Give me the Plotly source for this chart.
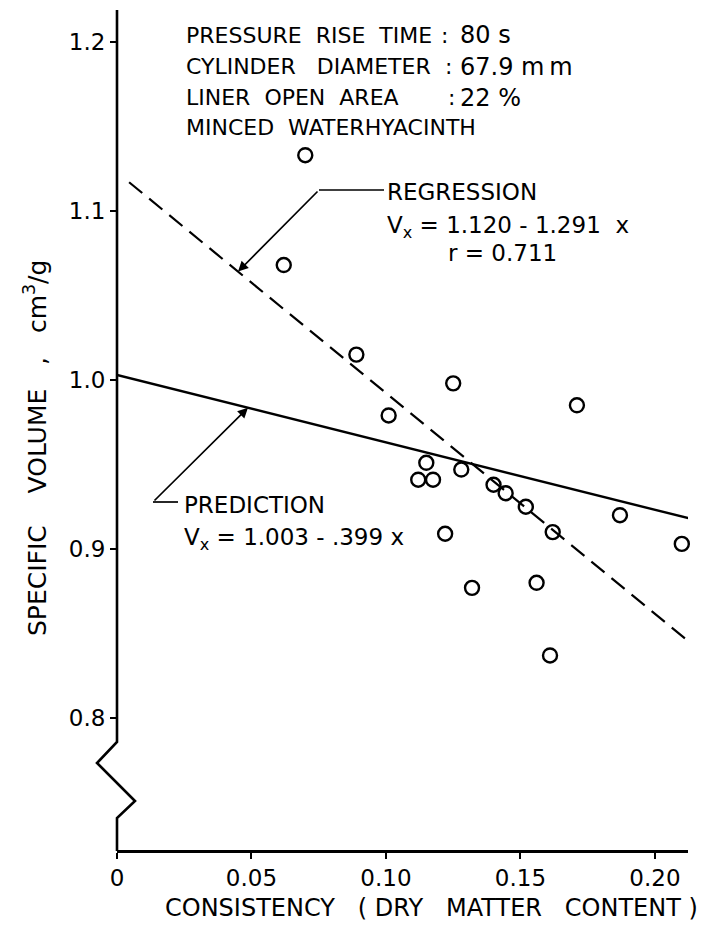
import plotly.graph_objects as go

# ---- data ----
consistency = [0.070, 0.062, 0.089, 0.101, 0.125, 0.171, 0.115, 0.112, 0.1175, 0.128,
               0.140, 0.1445, 0.152, 0.162, 0.122, 0.132, 0.156, 0.161, 0.187, 0.210]
specific_volume = [1.133, 1.068, 1.015, 0.979, 0.998, 0.985, 0.951, 0.941, 0.941, 0.947,
                   0.938, 0.933, 0.925, 0.910, 0.909, 0.877, 0.880, 0.837, 0.920, 0.903]

regression_x = [0.0045, 0.212]
regression_y = [1.117, 0.846]
prediction_x = [0.0, 0.213]
prediction_y = [1.003, 0.918]

x_ticks = [0, 0.05, 0.10, 0.15, 0.20]
x_tick_labels = ["0", "0.05", "0.10", "0.15", "0.20"]
y_ticks = [0.8, 0.9, 1.0, 1.1, 1.2]
y_tick_labels = ["0.8", "0.9", "1.0", "1.1", "1.2"]

# ---- layout geometry (window pixels; the page body adds an 8px margin) ----
OFF = 8
WIN_W, WIN_H = 711, 928
W, H = WIN_W - OFF, WIN_H - OFF
L, R, T, B = 117, 688, 10, 850          # plot area in window pixels
XR = [0, 0.2123]
YR = [0.7219, 1.2189]

def px(xp):  # window pixel -> paper x
    return (xp - L) / (R - L)

def py(yp):  # window pixel -> paper y
    return (B - yp) / (B - T)

def x2pix(x):
    return L + (x - XR[0]) / (XR[1] - XR[0]) * (R - L)

def y2pix(y):
    return B - (y - YR[0]) / (YR[1] - YR[0]) * (B - T)

FONT = "DejaVu Sans"
NB = "\u00a0"

fig = go.Figure()
fig.add_trace(go.Scatter(x=regression_x, y=regression_y, mode="lines",
                         line=dict(color="black", width=2.2, dash="17px,9px"),
                         showlegend=False, hoverinfo="skip"))
fig.add_trace(go.Scatter(x=prediction_x, y=prediction_y, mode="lines",
                         line=dict(color="black", width=2.4),
                         showlegend=False, hoverinfo="skip"))
fig.add_trace(go.Scatter(x=consistency, y=specific_volume, mode="markers",
                         marker=dict(symbol="circle-open", size=14, color="black",
                                     line=dict(width=2.4, color="black")),
                         showlegend=False, cliponaxis=False))

annotations = []
PAD = 4  # annotation inner padding

def text(s, xp, yp, size=23, anchor="left"):
    xx = xp - PAD if anchor == "left" else xp
    annotations.append(dict(text=s, x=px(xx), y=py(yp), xref="paper", yref="paper",
                            xanchor=anchor, yanchor="middle", showarrow=False,
                            font=dict(family=FONT, size=size, color="black")))

# info block
rows = [("PRESSURE" + NB*2 + "RISE" + NB*2 + "TIME", 445, "80" + NB + "s", 35),
        ("CYLINDER" + NB*3 + "DIAMETER", 448, "67.9" + NB + "m\u2009m", 67),
        ("LINER" + NB*2 + "OPEN" + NB*2 + "AREA", 451, "22" + NB + "%", 98)]
for lab, cx, val, yy in rows:
    text(lab, 188, yy, size=22)
    text(":", cx, yy, size=22, anchor="center")
    text(val, 462, yy, size=24)
text("MINCED" + NB*2 + "WATERHYACINTH", 188, 128, size=22)

text("REGRESSION", 389, 192)
text("V<sub>x</sub> = 1.120 - 1.291" + NB*2 + "x", 389, 227)
text("r = 0.711", 450, 253)
text("PREDICTION", 186, 505)
text("V<sub>x</sub> = 1.003 - .399 x", 186, 539)

# axis titles
text("CONSISTENCY" + NB*3 + "(" + NB + "DRY" + NB*3 + "MATTER" + NB*3 + "CONTENT" + NB + ")",
     431, 908, size=24, anchor="center")
annotations.append(dict(text="SPECIFIC" + NB*4 + "VOLUME" + NB*3 + "," + NB*3 + "cm<sup>3</sup>/g",
                        x=px(36), y=py(448), xref="paper", yref="paper", textangle=-90,
                        xanchor="center", yanchor="middle", showarrow=False,
                        font=dict(family=FONT, size=25, color="black")))

# leader arrows (tips lie on the lines)
def line_y(xs, ys, x):
    return ys[0] + (ys[1] - ys[0]) * (x - xs[0]) / (xs[1] - xs[0])

def arrow(tip_x, tip_y, cx, cy):
    annotations.append(dict(x=tip_x, y=tip_y, xref="x", yref="y",
                            ax=cx - x2pix(tip_x), ay=cy - y2pix(tip_y),
                            axref="pixel", ayref="pixel",
                            showarrow=True, arrowhead=2, arrowsize=1.2, arrowwidth=1.7,
                            arrowcolor="black", text="", standoff=0))

reg_tip_x = 0.045
arrow(reg_tip_x, line_y(regression_x, regression_y, reg_tip_x), 319, 190)
pred_tip_x = 0.0487
arrow(pred_tip_x, line_y(prediction_x, prediction_y, pred_tip_x), 153, 502)

shapes = [
    dict(type="line", xref="paper", yref="paper", x0=px(319), y0=py(190), x1=px(384), y1=py(190),
         line=dict(color="black", width=1.7)),
    dict(type="line", xref="paper", yref="paper", x0=px(153), y0=py(502), x1=px(178), y1=py(502),
         line=dict(color="black", width=1.7)),
    # y axis with break
    dict(type="path", xref="paper", yref="paper",
         path=f"M {px(117)} {py(10)} L {px(117)} {py(742)} L {px(97)} {py(763)} "
              f"L {px(135)} {py(801)} L {px(117)} {py(818)} L {px(117)} {py(851)}",
         line=dict(color="black", width=2.6)),
]

fig.update_layout(
    width=W, height=H,
    margin=dict(l=L - OFF, r=WIN_W - R, t=T - OFF, b=WIN_H - B),
    plot_bgcolor="white", paper_bgcolor="white",
    annotations=annotations, shapes=shapes,
    xaxis=dict(range=XR, tickvals=x_ticks, ticktext=x_tick_labels, showgrid=False,
               zeroline=False, showline=True, linecolor="black", linewidth=2.6,
               ticks="outside", ticklen=6, tickwidth=2, tickcolor="black",
               tickfont=dict(family=FONT, size=23, color="black")),
    yaxis=dict(range=YR, tickvals=y_ticks, ticktext=y_tick_labels, showgrid=False,
               zeroline=False, showline=False,
               ticks="outside", ticklen=6, tickwidth=2, tickcolor="black",
               tickfont=dict(family=FONT, size=23, color="black")),
    font=dict(family=FONT, color="black"),
)

fig.write_html("out.html")
